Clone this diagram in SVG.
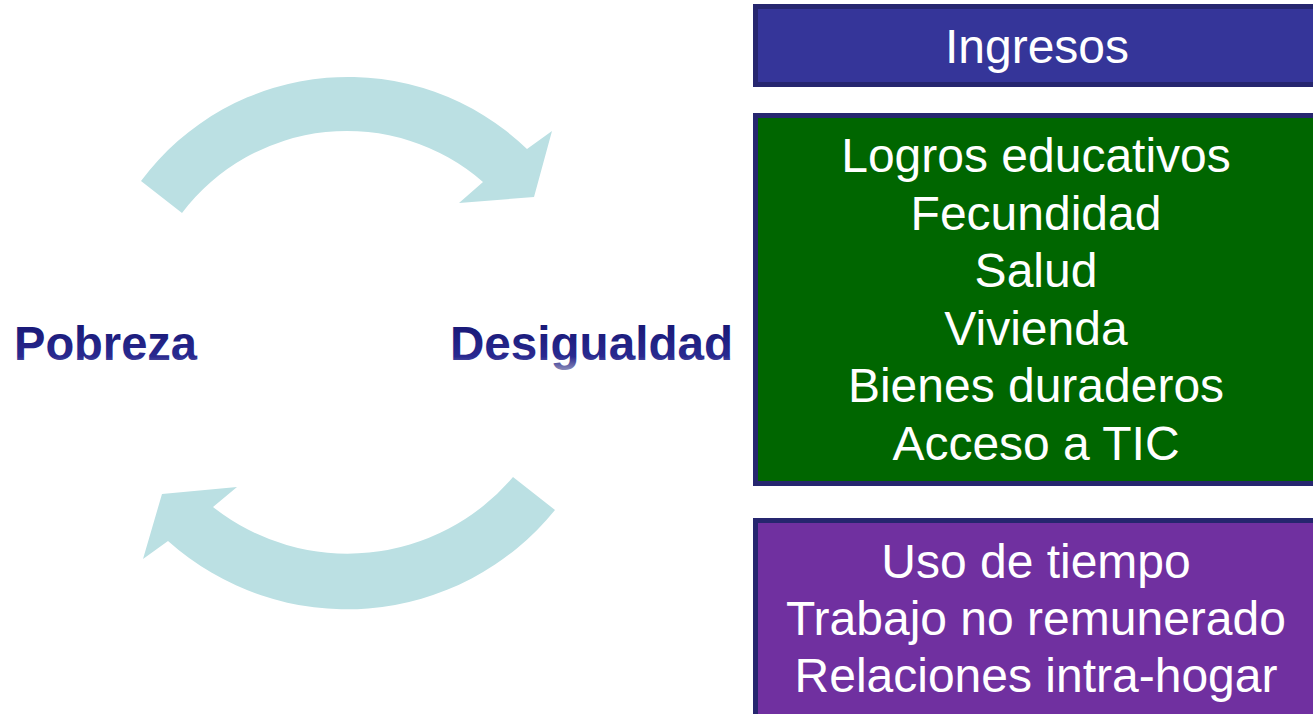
<svg xmlns="http://www.w3.org/2000/svg" width="1313" height="714" viewBox="0 0 1313 714">
<defs>
<linearGradient id="tg" x1="0" y1="0" x2="0" y2="1">
<stop offset="0" stop-color="#141470"/>
<stop offset="0.75" stop-color="#2a2a90"/>
<stop offset="1" stop-color="#8a8ab8"/>
</linearGradient>
<style>
.arrow{fill:#BBE0E3;}
.lbl{font-family:"Liberation Sans",Arial,sans-serif;font-weight:bold;font-size:48px;fill:url(#tg);}
.box{stroke:#26266f;stroke-width:5;}
.bt{font-family:"Liberation Sans",Arial,sans-serif;font-size:48px;fill:#ffffff;text-anchor:middle;}
</style>
</defs>
<rect width="1313" height="714" fill="#ffffff"/>
<g id="connectors">
<path class="arrow" d="M141,181 A258,258 0 0,1 527,149 L552,131 L534,197 L459,203 L483,182 A207,207 0 0,0 182,213 Z"/>
<path class="arrow" d="M555,510 A268,268 0 0,1 168,541 L143,559 L162,494 L237,487 L213,507 A217,217 0 0,0 513,477 Z"/>
</g>
<g id="pobreza"><text class="lbl" x="14" y="360" textLength="183" lengthAdjust="spacingAndGlyphs">Pobreza</text></g>
<g id="desigualdad"><text class="lbl" x="450" y="360" textLength="283" lengthAdjust="spacingAndGlyphs">Desigualdad</text></g>
<g id="ingresos">
<rect class="box" x="755.5" y="6.5" width="570" height="78" fill="#353599"/>
<text class="bt" x="1037" y="63">Ingresos</text>
</g>
<g id="dimensiones">
<rect class="box" x="755.5" y="115.5" width="570" height="368" fill="#006600"/>
<text class="bt" x="1036" y="172">Logros educativos</text>
<text class="bt" x="1036" y="230">Fecundidad</text>
<text class="bt" x="1036" y="287">Salud</text>
<text class="bt" x="1036" y="345">Vivienda</text>
<text class="bt" x="1036" y="402">Bienes duraderos</text>
<text class="bt" x="1036" y="460">Acceso a TIC</text>
</g>
<g id="hogar">
<rect class="box" x="755.5" y="520.5" width="570" height="210" fill="#7030A0"/>
<text class="bt" x="1036" y="578">Uso de tiempo</text>
<text class="bt" x="1036" y="635">Trabajo no remunerado</text>
<text class="bt" x="1036" y="692">Relaciones intra-hogar</text>
</g>
</svg>
